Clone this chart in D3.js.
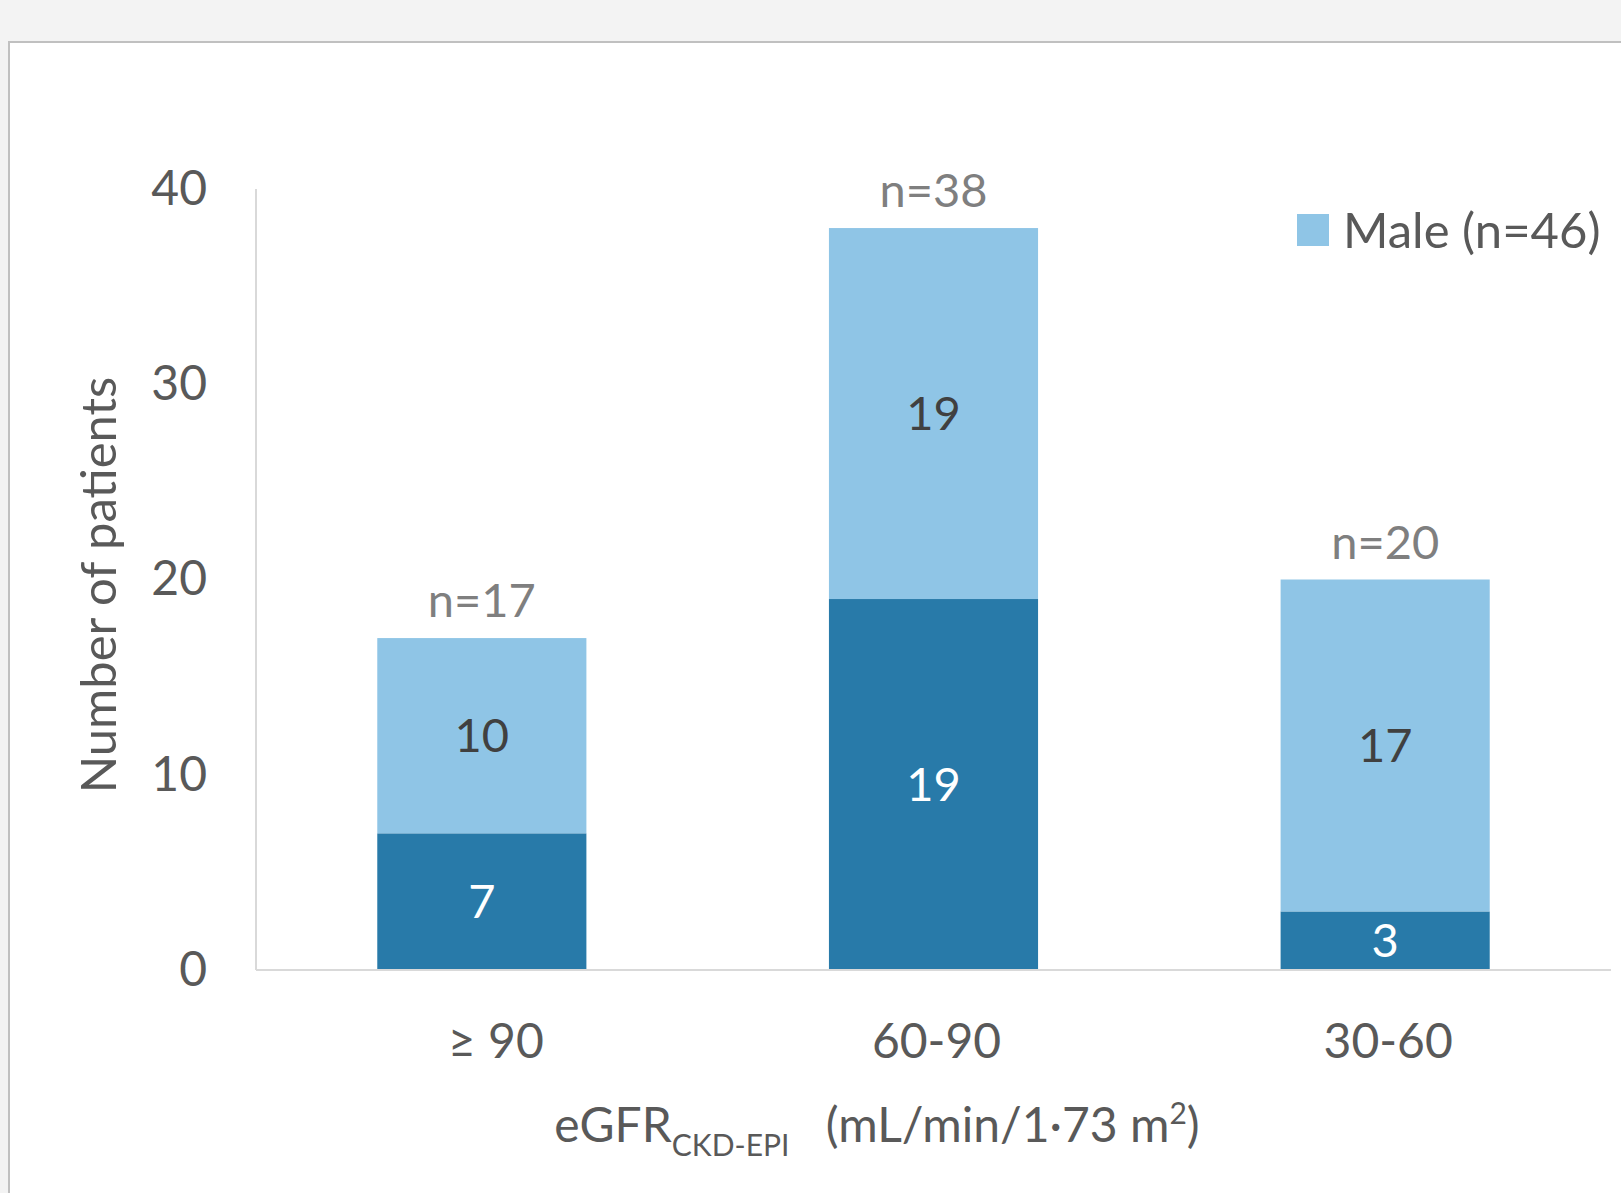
<!DOCTYPE html>
<html>
<head>
<meta charset="utf-8">
<script src="https://cdn.jsdelivr.net/npm/d3@7/dist/d3.min.js"></script>
<style>
  html, body { margin: 0; padding: 0; background: #f3f3f3; }
  svg { display: block; }
  text { font-family: Lato, "Open Sans", sans-serif; }
</style>
</head>
<body>
<svg id="chart" width="1621" height="1193"></svg>
<script>
// eGFR groups and patients per group, split by sex
const categories = ["≥ 90", "60-90", "30-60"];
const femaleCounts = [7, 19, 3];
const maleCounts = [10, 19, 17];
const yTicks = [0, 10, 20, 30, 40];
const seriesKeys = ["female", "male"];
const seriesColors = { female: "#287aa9", male: "#8fc5e6" };
const labelColors = { female: "#ffffff", male: "#404040" };
const legendLabel = "Male (n=46)";

const rows = categories.map((c, i) => ({ cat: c, female: femaleCounts[i], male: maleCounts[i] }));

const svg = d3.select("#chart");

// white panel with a thin grey frame
svg.append("rect")
  .attr("x", 9).attr("y", 42).attr("width", 1640).attr("height", 1200)
  .attr("fill", "#ffffff").attr("stroke", "#c0c0c0").attr("stroke-width", 2);

const x = d3.scaleBand().domain(categories).range([256, 1611]).padding(0);
const y = d3.scaleLinear().domain([0, 40]).range([970, 189]);
const barW = x.bandwidth() * 0.463;

const stacked = d3.stack().keys(seriesKeys)(rows);

// vertical axis line
svg.append("line").attr("x1", x.range()[0]).attr("x2", x.range()[0])
  .attr("y1", y(40)).attr("y2", y(0)).attr("stroke", "#d9d9d9").attr("stroke-width", 2);

// y tick labels
const yAxis = d3.axisLeft(y).tickValues(yTicks).tickSize(0).tickPadding(49);
const gy = svg.append("g").attr("transform", `translate(${x.range()[0]},0)`).call(yAxis);
gy.select(".domain").remove();
gy.selectAll("text").attr("font-family", "Lato, sans-serif").attr("font-size", 48)
  .attr("fill", "#595959");

// stacked bars
const layers = svg.append("g").selectAll("g").data(stacked).join("g")
  .attr("fill", d => seriesColors[d.key]);
layers.selectAll("rect").data(d => d).join("rect")
  .attr("x", d => x(d.data.cat) + (x.bandwidth() - barW) / 2)
  .attr("width", barW)
  .attr("y", d => y(d[1]))
  .attr("height", d => y(d[0]) - y(d[1]));

// segment value labels
stacked.forEach(layer => {
  svg.append("g").selectAll("text").data(layer).join("text")
    .attr("x", d => x(d.data.cat) + x.bandwidth() / 2)
    .attr("y", d => (y(d[0]) + y(d[1])) / 2)
    .attr("dy", "0.35em")
    .attr("text-anchor", "middle")
    .attr("font-size", 47)
    .attr("fill", labelColors[layer.key])
    .text(d => d[1] - d[0]);
});

// x axis baseline
svg.append("line").attr("x1", x.range()[0]).attr("x2", x.range()[1])
  .attr("y1", y(0)).attr("y2", y(0)).attr("stroke", "#d9d9d9").attr("stroke-width", 2);

// group totals above bars
svg.append("g").selectAll("text").data(rows).join("text")
  .attr("x", d => x(d.cat) + x.bandwidth() / 2)
  .attr("y", d => y(d.female + d.male) - 21)
  .attr("text-anchor", "middle")
  .attr("font-size", 47)
  .attr("fill", "#7f7f7f")
  .text(d => "n=" + (d.female + d.male));

// x category labels
const xAxis = d3.axisBottom(x).tickSize(0).tickPadding(54);
const gx = svg.append("g").attr("transform", `translate(0,${y(0)})`).call(xAxis);
gx.select(".domain").remove();
gx.selectAll("text").attr("font-family", "Lato, sans-serif").attr("font-size", 48)
  .attr("fill", "#595959")
  .attr("dx", (d, i) => i === 0 ? 14 : 3);

// axis titles
svg.append("text")
  .attr("transform", `translate(116,585) rotate(-90)`)
  .attr("text-anchor", "middle")
  .attr("font-size", 49)
  .attr("fill", "#595959")
  .text("Number of patients");

const xt = svg.append("text")
  .attr("x", 877).attr("y", 1142)
  .attr("text-anchor", "middle")
  .attr("font-size", 48)
  .attr("fill", "#595959");
xt.append("tspan").text("eGFR");
xt.append("tspan").attr("font-size", 30).attr("dy", 14).text("CKD-EPI");
xt.append("tspan").attr("dy", -14).text("\u2002 (mL/min/1·73 m");
xt.append("tspan").attr("font-size", 30).attr("dy", -18).text("2");
xt.append("tspan").attr("dy", 18).text(")");

// legend
const lg = svg.append("g").attr("transform", "translate(1297,214)");
lg.append("rect").attr("width", 32).attr("height", 32).attr("fill", seriesColors.male);
lg.append("text").attr("x", 46).attr("y", 16).attr("dy", "0.36em")
  .attr("font-size", 49).attr("fill", "#595959").text(legendLabel);
</script>
</body>
</html>
